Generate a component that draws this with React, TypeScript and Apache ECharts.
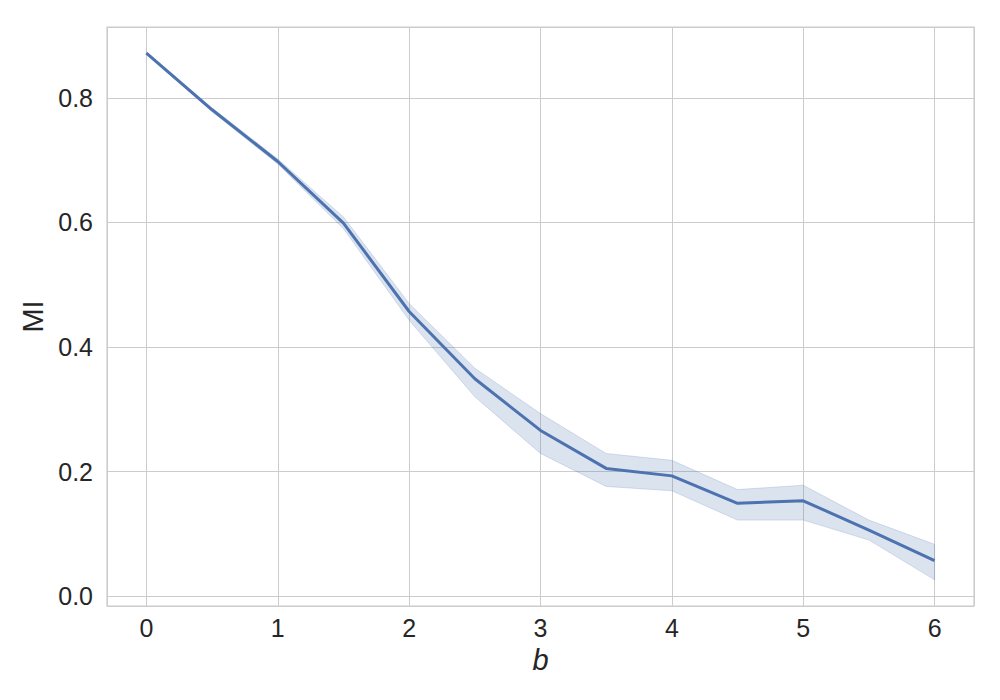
import React, { useEffect, useRef } from "react";
import * as echarts from "echarts";

const xValues = [0, 0.5, 1, 1.5, 2, 2.5, 3, 3.5, 4, 4.5, 5, 5.5, 6];
const meanMI = [0.872, 0.781, 0.698, 0.599, 0.457, 0.349, 0.266, 0.205, 0.193, 0.149, 0.153, 0.106, 0.057];
const lowerMI = [0.870, 0.778, 0.694, 0.590, 0.443, 0.320, 0.229, 0.176, 0.169, 0.122, 0.122, 0.090, 0.026];
const upperMI = [0.874, 0.784, 0.702, 0.609, 0.470, 0.366, 0.293, 0.229, 0.218, 0.171, 0.178, 0.122, 0.083];

const FONT = "Liberation Sans, Arial, sans-serif";
const LINE_COLOR = "#4C72B0";

export default function App() {
  const ref = useRef<HTMLDivElement>(null);
  useEffect(() => {
    if (!ref.current) return;
    const chart = echarts.init(ref.current, null, { renderer: "svg" });
    const meanData = xValues.map((x, i) => [x, meanMI[i]]);
    chart.setOption({
      animation: false,
      backgroundColor: "#ffffff",
      grid: {
        left: 107,
        right: 26,
        top: 27,
        bottom: 94,
        show: true,
        borderColor: "#cccccc",
        borderWidth: 1.2,
        backgroundColor: "transparent",
      },
      xAxis: {
        type: "value",
        min: -0.3,
        max: 6.3,
        minInterval: 1,
        maxInterval: 1,
        name: "b",
        nameLocation: "middle",
        nameGap: 39,
        nameTextStyle: { fontFamily: FONT, fontSize: 29, fontStyle: "italic", color: "#262626" },
        axisLine: { show: false },
        axisTick: { show: false },
        axisLabel: {
          showMinLabel: false,
          showMaxLabel: false,
          fontFamily: FONT,
          fontSize: 25,
          color: "#262626",
          margin: 9,
          formatter: (v: number) => String(Math.round(v)),
        },
        splitLine: { show: true, lineStyle: { color: "#cccccc", width: 1 } },
      },
      yAxis: {
        type: "value",
        min: -0.016,
        max: 0.914,
        minInterval: 0.2,
        maxInterval: 0.2,
        name: "MI",
        nameLocation: "middle",
        nameGap: 59,
        nameRotate: 90,
        nameTextStyle: { fontFamily: FONT, fontSize: 29, color: "#262626" },
        axisLine: { show: false },
        axisTick: { show: false },
        axisLabel: {
          showMinLabel: false,
          showMaxLabel: false,
          fontFamily: FONT,
          fontSize: 25,
          color: "#262626",
          margin: 14,
          formatter: (v: number) => v.toFixed(1),
        },
        splitLine: { show: true, lineStyle: { color: "#cccccc", width: 1 } },
      },
      series: [
        {
          type: "custom",
          silent: true,
          z: 1,
          data: [0],
          renderItem: (params: any, api: any) => {
            const pts: number[][] = [];
            for (let i = 0; i < xValues.length; i++) pts.push(api.coord([xValues[i], upperMI[i]]));
            for (let i = xValues.length - 1; i >= 0; i--) pts.push(api.coord([xValues[i], lowerMI[i]]));
            return {
              type: "polygon",
              shape: { points: pts },
              style: { fill: "rgba(76,114,176,0.2)", stroke: "rgba(76,114,176,0.25)", lineWidth: 0.8 },
            };
          },
        },
        {
          type: "line",
          data: meanData,
          symbol: "none",
          lineStyle: { color: LINE_COLOR, width: 3 },
          z: 3,
        },
      ],
    });
    return () => chart.dispose();
  }, []);
  return <div ref={ref} style={{ width: 1000, height: 700, position: "absolute", left: 0, top: 0 }} />;
}
